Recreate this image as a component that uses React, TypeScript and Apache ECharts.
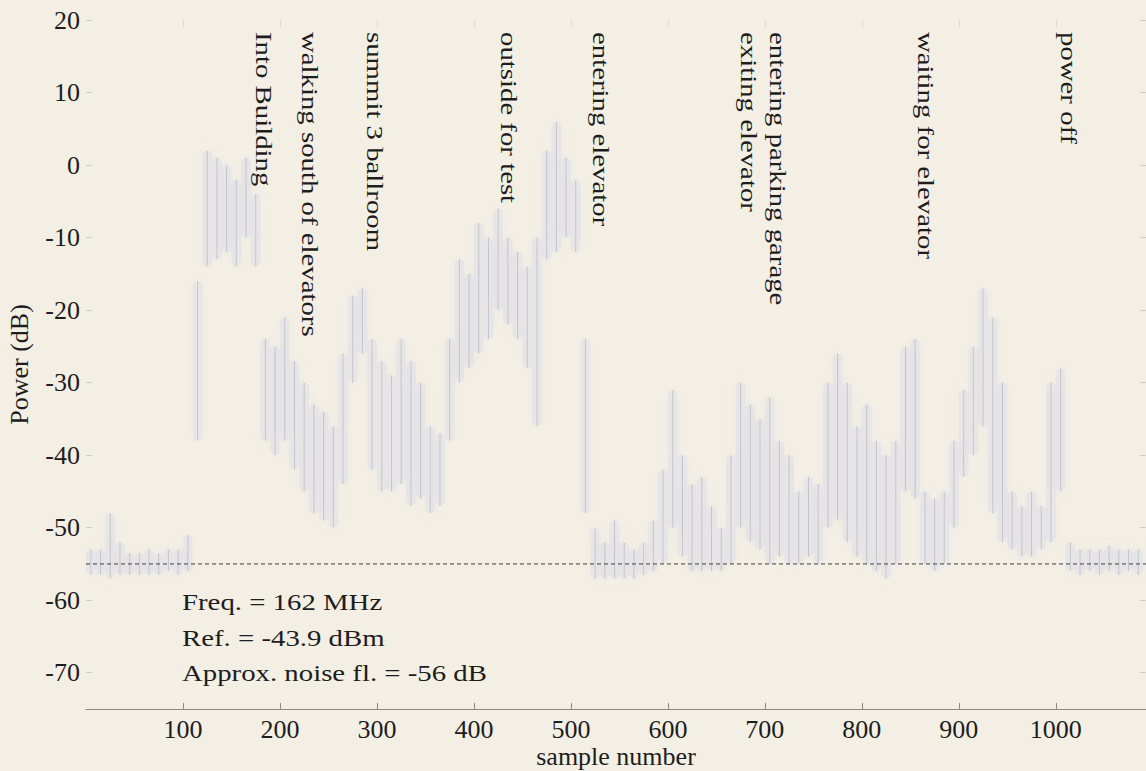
import React, { useEffect, useRef } from "react";
import * as echarts from "echarts";

// bin centres (sample number) of the measured power trace
const SAMPLE_BINS = [
  5, 15, 25, 35, 45, 55, 65, 75, 85, 95,
  105, 115, 125, 135, 145, 155, 165, 175, 185, 195,
  205, 215, 225, 235, 245, 255, 265, 275, 285, 295,
  305, 315, 325, 335, 345, 355, 365, 375, 385, 395,
  405, 415, 425, 435, 445, 455, 465, 475, 485, 495,
  505, 515, 525, 535, 545, 555, 565, 575, 585, 595,
  605, 615, 625, 635, 645, 655, 665, 675, 685, 695,
  705, 715, 725, 735, 745, 755, 765, 775, 785, 795,
  805, 815, 825, 835, 845, 855, 865, 875, 885, 895,
  905, 915, 925, 935, 945, 955, 965, 975, 985, 995,
  1005, 1015, 1025, 1035, 1045, 1055, 1065, 1075, 1085,
];
// upper envelope of power within each bin (dB)
const POWER_HIGH = [
  -53, -53, -48, -52, -53.5, -53.5, -53, -53.5, -53, -53,
  -51, -16, 2, 1, 0, -2, 1, -4, -24, -25,
  -21, -27, -30, -33, -34, -36, -26, -18, -17, -24,
  -27, -29, -24, -27, -30, -36, -37, -24, -13, -15,
  -8, -10, -6, -10, -12, -14, -10, 2, 6, 1,
  -2, -24, -50, -52, -49, -52, -53, -52, -49, -42,
  -31, -40, -44, -43, -47, -50, -40, -30, -33, -35,
  -32, -38, -40, -45, -43, -44, -30, -26, -30, -36,
  -33, -38, -40, -38, -25, -24, -45, -46, -45, -38,
  -31, -25, -17, -21, -30, -45, -47, -45, -47, -30,
  -28, -52, -53, -53, -53, -52.5, -53, -53, -53,
];
// lower envelope of power within each bin (dB)
const POWER_LOW = [
  -56.5, -56.5, -57, -56.5, -56.5, -56.5, -56.5, -56.5, -56, -56.5,
  -56, -38, -14, -13, -12, -14, -10, -14, -38, -40,
  -38, -42, -45, -48, -49, -50, -44, -30, -26, -42,
  -45, -45, -44, -47, -46, -48, -47, -38, -30, -28,
  -26, -24, -20, -22, -24, -28, -36, -13, -12, -10,
  -12, -48, -57, -57, -57, -57, -57, -56.5, -56, -55,
  -50, -54, -56, -56, -56, -56, -55, -50, -52, -53,
  -55, -54, -55, -55, -54, -55, -50, -49, -52, -54,
  -55, -56, -57, -55, -45, -46, -55, -56, -55, -50,
  -43, -40, -36, -48, -52, -53, -54, -54, -53, -52,
  -45, -56, -56.5, -56, -56.5, -56, -56.5, -56, -56.5,
];

const NOISE_FLOOR = -55;
const X_TICKS = [100, 200, 300, 400, 500, 600, 700, 800, 900, 1000];
const Y_TICKS = [-70, -60, -50, -40, -30, -20, -10, 0, 10, 20];
const X_MIN = 0;
const X_MAX = 1093;
const Y_MIN = -75;
const Y_MAX = 20;

const EVENTS = [
  { text: "Into Building", x: 264 },
  { text: "walking south of elevators", x: 310 },
  { text: "summit 3 ballroom", x: 375 },
  { text: "outside for test", x: 509 },
  { text: "entering elevator", x: 601 },
  { text: "exiting elevator", x: 749 },
  { text: "entering parking garage", x: 778 },
  { text: "waiting for elevator", x: 926 },
  { text: "power off", x: 1069 },
];

const INFO_LINES = ["Freq. = 162 MHz", "Ref. = -43.9 dBm", "Approx. noise fl. = -56 dB"];

const FONT = "'Liberation Serif', 'Times New Roman', serif";
const FS = 26;
const GFS = 24;
const STRETCH = 1.2;
const INK = "#1d1d1d";

export default function App() {
  const ref = useRef<HTMLDivElement>(null);
  useEffect(() => {
    document.body.style.margin = "0";
    const chart = echarts.init(ref.current!, null, { renderer: "svg" });
    const traceData = SAMPLE_BINS.map((s, i) => [s, POWER_LOW[i], POWER_HIGH[i]]);
    const option: any = {
      animation: false,
      backgroundColor: "#f3efe5",
      grid: { left: 86, right: 0, top: 20, bottom: 62, containLabel: false, outerBoundsMode: "none" },
      xAxis: [
        {
          type: "value",
          min: X_MIN,
          max: X_MAX,
          name: "sample number",
          nameLocation: "middle",
          nameGap: 35,
          nameMoveOverlap: false,
          nameTextStyle: { fontFamily: FONT, fontSize: FS, lineHeight: 24, color: INK },
          axisLine: { show: true, onZero: false, lineStyle: { color: "#8a8884", width: 1 } },
          axisTick: { show: true, inside: true, length: 6, customValues: X_TICKS, lineStyle: { color: "#8a8884" } },
          axisLabel: {
            customValues: X_TICKS,
            formatter: (v: number) => String(v),
            fontFamily: FONT,
            fontSize: FS,
            lineHeight: 24,
            color: INK,
            margin: 8,
          },
          splitLine: { show: false },
        },
        {
          type: "value",
          position: "top",
          min: X_MIN,
          max: X_MAX,
          axisLine: { show: false, onZero: false },
          axisTick: { show: true, inside: true, length: 7, customValues: X_TICKS, lineStyle: { color: "#dcd9d0" } },
          axisLabel: { show: false },
          splitLine: { show: false },
        },
      ],
      yAxis: [
        {
          type: "value",
          min: Y_MIN,
          max: Y_MAX,
          name: "Power (dB)",
          nameLocation: "middle",
          nameRotate: 90,
          nameGap: 54,
          nameMoveOverlap: false,
          nameTextStyle: { fontFamily: FONT, fontSize: FS, color: INK },
          axisLine: { show: false, onZero: false },
          axisTick: { show: true, inside: true, length: 6, customValues: Y_TICKS, lineStyle: { color: "#cfccc3" } },
          axisLabel: { customValues: Y_TICKS, fontFamily: FONT, fontSize: FS, color: INK, margin: 6 },
          splitLine: { show: false },
        },
        {
          type: "value",
          position: "right",
          min: Y_MIN,
          max: Y_MAX,
          axisLine: { show: false, onZero: false },
          axisTick: { show: true, inside: true, length: 6, customValues: Y_TICKS, lineStyle: { color: "#cfccc3" } },
          axisLabel: { show: false },
          splitLine: { show: false },
        },
      ],
      series: [
        {
          type: "custom",
          xAxisIndex: 0,
          yAxisIndex: 0,
          clip: true,
          data: traceData,
          renderItem: (params: any, api: any) => {
            const x = api.value(0);
            const top = api.coord([x, api.value(2)]);
            const bot = api.coord([x, api.value(1)]);
            const w = api.size([10, 0])[0];
            return {
              type: "group",
              children: [
                {
                  type: "rect",
                  shape: { x: top[0] - w / 2, y: top[1], width: w, height: Math.max(1, bot[1] - top[1]), r: w / 2 },
                  style: {
                    fill: "rgba(205,208,230,0.26)",
                    shadowBlur: 8,
                    shadowColor: "rgba(205,208,230,0.5)",
                  },
                },
                {
                  type: "line",
                  shape: { x1: top[0], y1: top[1], x2: bot[0], y2: bot[1] },
                  style: { stroke: "rgba(135,138,172,0.35)", lineWidth: 1 },
                },
              ],
            };
          },
        },
        {
          type: "line",
          xAxisIndex: 0,
          yAxisIndex: 0,
          data: [[X_MIN, NOISE_FLOOR], [X_MAX, NOISE_FLOOR]],
          symbol: "none",
          lineStyle: { color: "#3e3e3e", width: 1, type: [4, 3] },
        },
      ],
      graphic: [
        ...EVENTS.map((e) => ({
          type: "text",
          x: e.x,
          y: 32,
          rotation: -Math.PI / 2,
          scaleX: STRETCH,
          style: {
            text: e.text,
            font: `${GFS}px ${FONT}`,
            fill: INK,
            textAlign: "left",
            textVerticalAlign: "middle",
          },
        })),
        ...INFO_LINES.map((t, i) => ({
          type: "text",
          x: 182,
          y: 602 + i * 35.5,
          scaleX: STRETCH,
          style: {
            text: t,
            font: `${GFS}px ${FONT}`,
            fill: INK,
            textAlign: "left",
            textVerticalAlign: "middle",
          },
        })),
      ],
    };
    chart.setOption(option);
    return () => chart.dispose();
  }, []);
  return <div ref={ref} style={{ position: "absolute", left: 0, top: 0, width: 1146, height: 771 }} />;
}
